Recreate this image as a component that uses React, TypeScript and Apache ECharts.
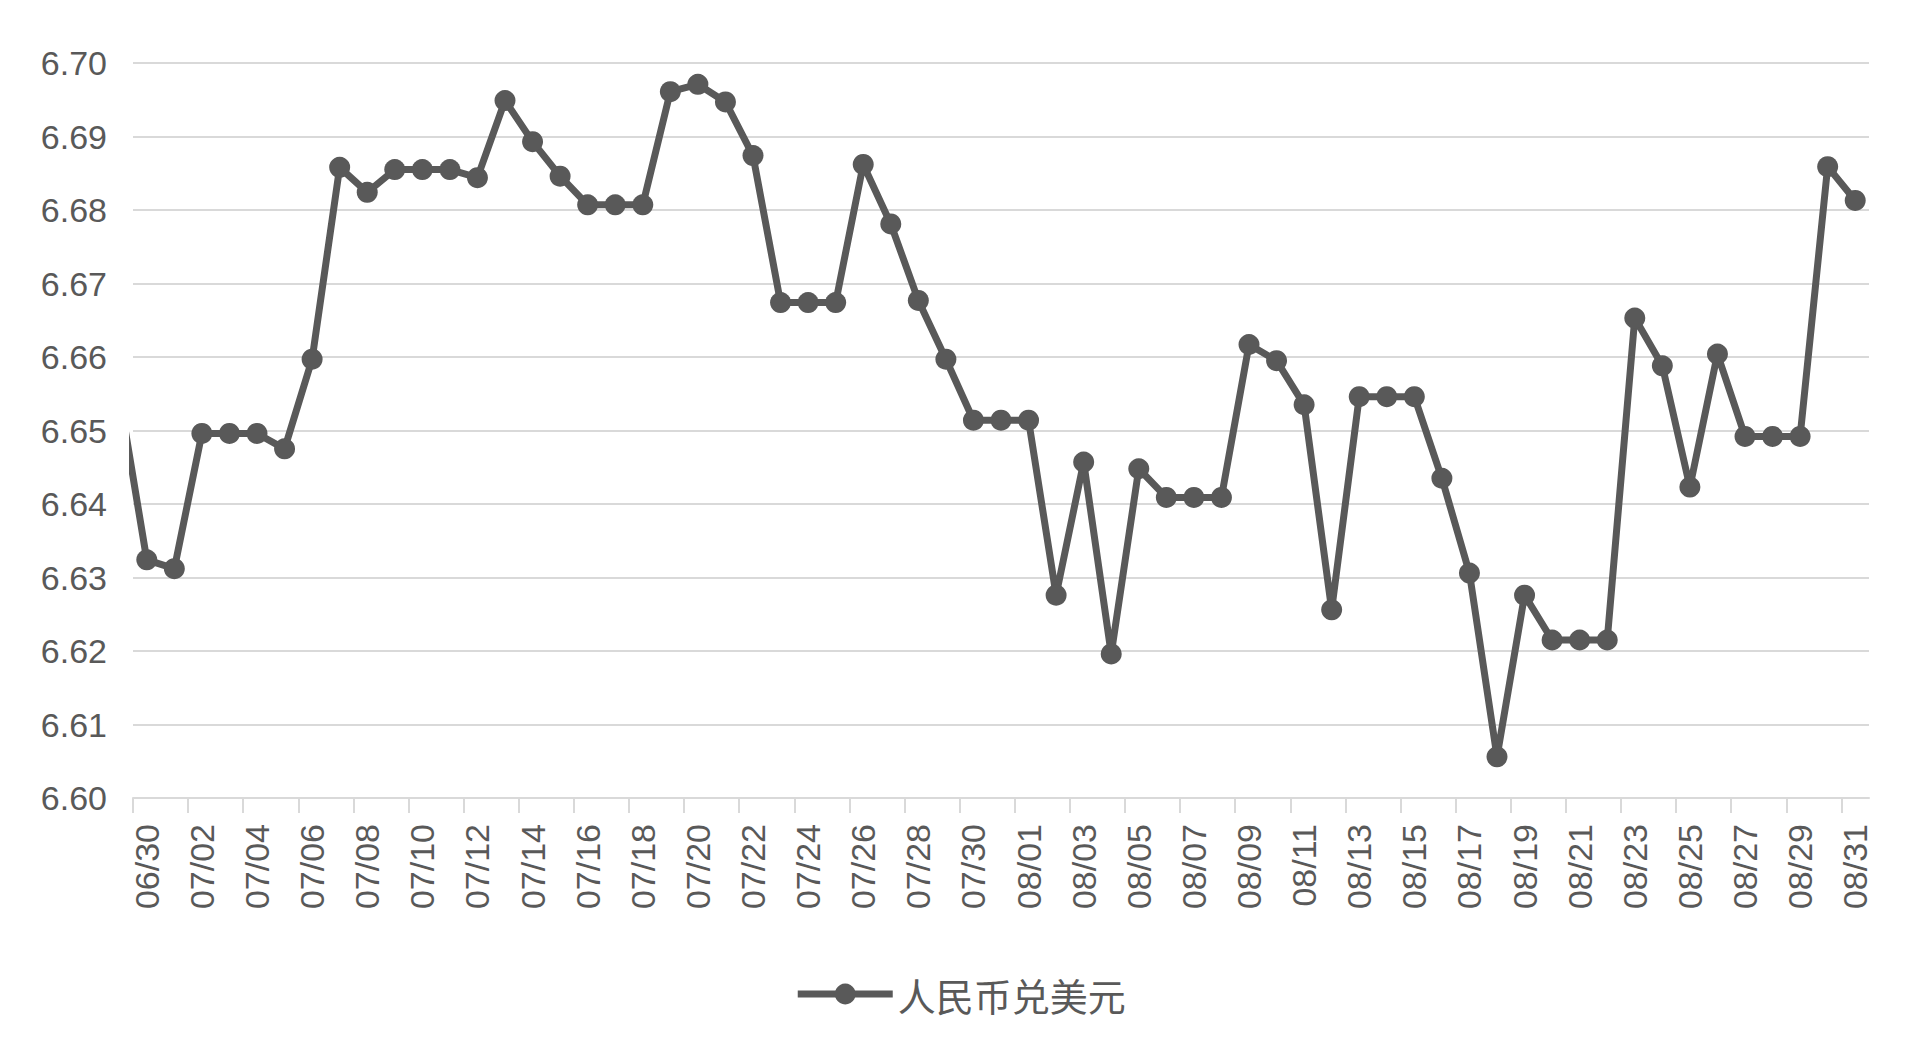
import React, { useEffect, useRef } from 'react';
import * as echarts from 'echarts';

// Daily dates shown on the category (date) axis
const dates = [
  '06/30',
  '07/01', '07/02', '07/03', '07/04', '07/05', '07/06', '07/07', '07/08', '07/09', '07/10',
  '07/11', '07/12', '07/13', '07/14', '07/15', '07/16', '07/17', '07/18', '07/19', '07/20',
  '07/21', '07/22', '07/23', '07/24', '07/25', '07/26', '07/27', '07/28', '07/29', '07/30', '07/31',
  '08/01', '08/02', '08/03', '08/04', '08/05', '08/06', '08/07', '08/08', '08/09', '08/10',
  '08/11', '08/12', '08/13', '08/14', '08/15', '08/16', '08/17', '08/18', '08/19', '08/20',
  '08/21', '08/22', '08/23', '08/24', '08/25', '08/26', '08/27', '08/28', '08/29', '08/30', '08/31',
];

// 人民币兑美元 daily rate
const rates = [
  6.6324,
  6.6312, 6.6496, 6.6496, 6.6496, 6.6475, 6.6597, 6.6858, 6.6824, 6.6855, 6.6855,
  6.6855, 6.6844, 6.6949, 6.6893, 6.6846, 6.6807, 6.6807, 6.6807, 6.6961, 6.6971,
  6.6947, 6.6874, 6.6674, 6.6674, 6.6674, 6.6862, 6.6781, 6.6677, 6.6597, 6.6514, 6.6514,
  6.6514, 6.6276, 6.6457, 6.6196, 6.6448, 6.6409, 6.6409, 6.6409, 6.6617, 6.6595,
  6.6535, 6.6256, 6.6546, 6.6546, 6.6546, 6.6435, 6.6306, 6.6056, 6.6276, 6.6215,
  6.6215, 6.6215, 6.6653, 6.6588, 6.6423, 6.6604, 6.6492, 6.6492, 6.6492, 6.6859, 6.6813,
];

// value of the day before the first shown date (its line enters from the left edge)
const priorRate = 6.655;

const seriesName = '人民币兑美元';
const yMin = 6.6;
const yMax = 6.7;
const yInterval = 0.01;

export default function App() {
  const ref = useRef<HTMLDivElement>(null);

  useEffect(() => {
    if (!ref.current) return;
    const chart = echarts.init(ref.current, null, { renderer: 'svg' });

    const seriesData: [number, number][] = [[-1, priorRate]];
    rates.forEach((v, i) => seriesData.push([i, v]));

    const labelIdx = dates.map((_, i) => i).filter((i) => i % 2 === 0);
    const tickPos = labelIdx.map((i) => i - 0.5);

    const gray = '#595959';
    const grid = '#d9d9d9';

    chart.setOption({
      animation: false,
      backgroundColor: '#ffffff',
      grid: { left: 133, right: 51, top: 63, bottom: 250, containLabel: false },
      legend: {
        show: true,
        left: 'center',
        top: 970,
        itemWidth: 95,
        itemHeight: 26,
        data: [seriesName],
        lineStyle: { color: gray, width: 7 },
        itemStyle: { color: gray },
        textStyle: {
          color: gray,
          fontSize: 38,
          fontFamily: '"Noto Sans CJK SC", sans-serif',
        },
      },
      xAxis: {
        type: 'value',
        min: -0.5,
        max: dates.length - 0.5,
        splitLine: { show: false },
        axisLine: { show: true, onZero: false, lineStyle: { color: grid, width: 2 } },
        axisTick: {
          show: true,
          customValues: tickPos,
          length: 15,
          lineStyle: { color: grid, width: 2 },
        },
        axisLabel: {
          show: true,
          customValues: labelIdx,
          rotate: 90,
          margin: 26,
          color: gray,
          fontSize: 34,
          fontFamily: '"Liberation Sans", Arial, sans-serif',
          formatter: (v: number) => dates[Math.round(v)] ?? '',
        },
      },
      yAxis: {
        type: 'value',
        min: yMin,
        max: yMax,
        interval: yInterval,
        axisLine: { show: false },
        axisTick: { show: false },
        splitLine: { show: true, lineStyle: { color: grid, width: 2 } },
        axisLabel: {
          margin: 26,
          color: gray,
          fontSize: 34,
          fontFamily: '"Liberation Sans", Arial, sans-serif',
          formatter: (v: number) => v.toFixed(2),
        },
      },
      series: [
        {
          name: seriesName,
          type: 'line',
          data: seriesData,
          clip: true,
          symbol: 'circle',
          symbolSize: 21,
          showSymbol: true,
          lineStyle: { color: gray, width: 7 },
          itemStyle: { color: gray },
          emphasis: { disabled: true },
        },
      ],
    });

    return () => chart.dispose();
  }, []);

  return (
    <div
      ref={ref}
      style={{ position: 'fixed', left: 0, top: 0, width: 1920, height: 1048, background: '#fff' }}
    />
  );
}
